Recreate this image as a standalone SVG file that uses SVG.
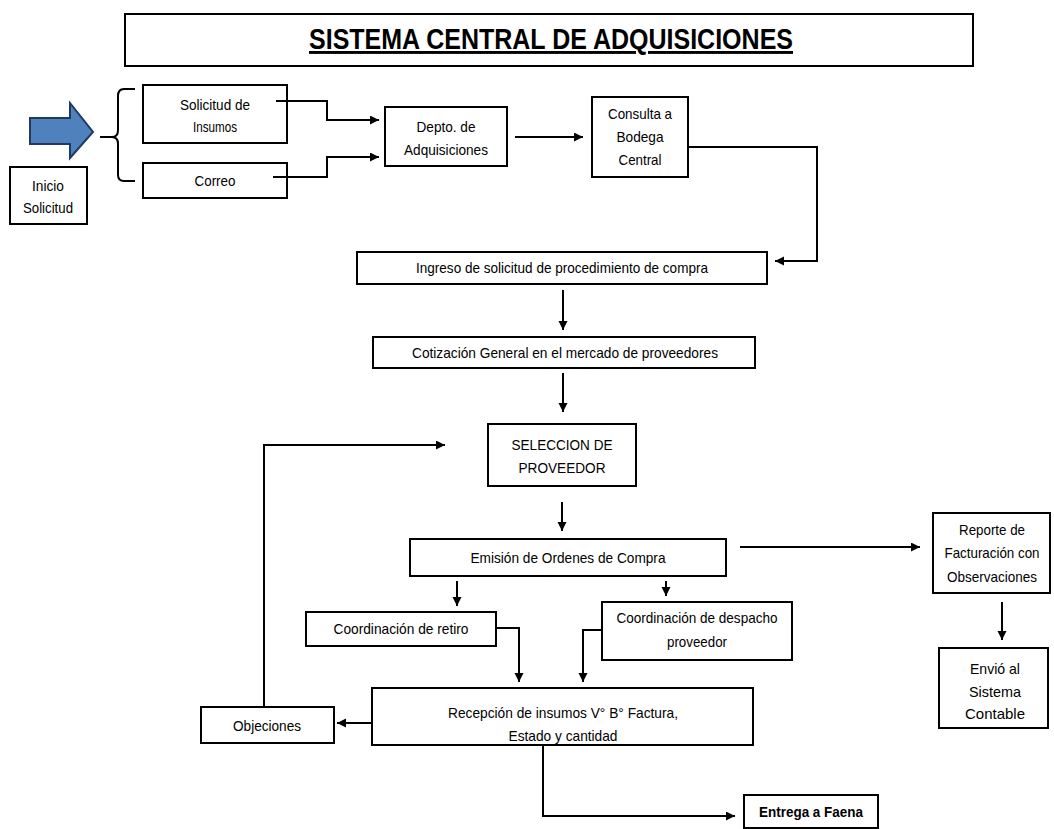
<svg xmlns="http://www.w3.org/2000/svg" width="1054" height="829" viewBox="0 0 1054 829">
<defs>
<marker id="ah" markerUnits="userSpaceOnUse" markerWidth="10" markerHeight="10" refX="9" refY="4.5" orient="auto">
<path d="M0,0 L9,4.5 L0,9 z" fill="#000"/>
</marker>
<style>
.box{fill:#fff;stroke:#000;stroke-width:2}
.t{font-family:"Liberation Sans Narrow","Liberation Sans",Arial,sans-serif;font-size:15px;fill:#000;text-anchor:middle}
.c{font-family:"Liberation Sans",Arial,sans-serif;font-size:15px;fill:#000;text-anchor:middle}
.ln{fill:none;stroke:#000;stroke-width:2}
.ar{fill:none;stroke:#000;stroke-width:2;marker-end:url(#ah)}
</style>
</defs>
<rect width="1054" height="829" fill="#fff"/>

<g id="title">
<rect x="125" y="14" width="848" height="52" fill="#fff" stroke="#000" stroke-width="2"/>
<text x="551" y="49" font-family="'Liberation Sans',Arial,sans-serif" font-size="29" font-weight="bold" text-anchor="middle" text-decoration="underline" textLength="484" lengthAdjust="spacingAndGlyphs">SISTEMA CENTRAL DE ADQUISICIONES</text>
</g>

<g id="inicio-arrow">
<path d="M30,118 H70 V103 L93,132 L70,158 V144 H30 z" fill="#4f81bd" stroke="#1f3864" stroke-width="2"/>
</g>

<g id="inicio">
<rect class="box" x="10" y="167" width="77" height="57" stroke-width="1.5"/>
<text class="t" x="48" y="191" textLength="32" lengthAdjust="spacingAndGlyphs">Inicio</text>
<text class="t" x="48" y="213" textLength="50" lengthAdjust="spacingAndGlyphs">Solicitud</text>
</g>

<g id="brace">
<path class="ln" d="M135,89 H124 Q118,89 118,96 V130 Q118,137 112,137 H100 M112,137 Q118,137 118,144 V175 Q118,181 124,181 H135"/>
</g>

<g id="solicitud">
<rect class="box" x="143" y="85" width="144" height="58"/>
<text class="t" x="215" y="110" textLength="70" lengthAdjust="spacingAndGlyphs">Solicitud de</text>
<text class="t" x="215" y="132" textLength="44" lengthAdjust="spacingAndGlyphs">Insumos</text>
</g>

<g id="correo">
<rect class="box" x="143" y="163" width="144" height="35"/>
<text class="t" x="215" y="186" textLength="41" lengthAdjust="spacingAndGlyphs">Correo</text>
</g>

<g id="depto">
<rect class="box" x="385" y="107" width="122" height="59"/>
<text class="t" x="446" y="132" textLength="59" lengthAdjust="spacingAndGlyphs">Depto. de</text>
<text class="t" x="446" y="155" textLength="84" lengthAdjust="spacingAndGlyphs">Adquisiciones</text>
</g>

<g id="consulta">
<rect class="box" x="592" y="97" width="96" height="80"/>
<text class="t" x="640" y="119" textLength="64" lengthAdjust="spacingAndGlyphs">Consulta a</text>
<text class="t" x="640" y="142" textLength="47" lengthAdjust="spacingAndGlyphs">Bodega</text>
<text class="t" x="640" y="165" textLength="43" lengthAdjust="spacingAndGlyphs">Central</text>
</g>

<g id="ingreso">
<rect class="box" x="357" y="252" width="410" height="32"/>
<text class="t" x="562" y="273" textLength="292" lengthAdjust="spacingAndGlyphs">Ingreso de solicitud de procedimiento de compra</text>
</g>

<g id="cotizacion">
<rect class="box" x="373" y="337" width="382" height="31"/>
<text class="t" x="565" y="358" textLength="306" lengthAdjust="spacingAndGlyphs">Cotización General en el mercado de proveedores</text>
</g>

<g id="seleccion">
<rect class="box" x="488" y="424" width="148" height="62"/>
<text class="t" x="562" y="450" textLength="101" lengthAdjust="spacingAndGlyphs">SELECCION DE</text>
<text class="t" x="562" y="473" textLength="87" lengthAdjust="spacingAndGlyphs">PROVEEDOR</text>
</g>

<g id="emision">
<rect class="box" x="410" y="539" width="316" height="37"/>
<text class="t" x="568" y="563" textLength="195" lengthAdjust="spacingAndGlyphs">Emisión de Ordenes de Compra</text>
</g>

<g id="reporte">
<rect class="box" x="933" y="513" width="117" height="80"/>
<text class="t" x="992" y="535" textLength="66" lengthAdjust="spacingAndGlyphs">Reporte de</text>
<text class="t" x="992" y="558" textLength="95" lengthAdjust="spacingAndGlyphs">Facturación con</text>
<text class="t" x="992" y="582" textLength="90" lengthAdjust="spacingAndGlyphs">Observaciones</text>
</g>

<g id="envio">
<rect class="box" x="939" y="648" width="109" height="80"/>
<text class="c" x="995" y="674" textLength="50" lengthAdjust="spacingAndGlyphs">Envió al</text>
<text class="c" x="995" y="697" textLength="52" lengthAdjust="spacingAndGlyphs">Sistema</text>
<text class="c" x="995" y="719" textLength="60" lengthAdjust="spacingAndGlyphs">Contable</text>
</g>

<g id="retiro">
<rect class="box" x="306" y="612" width="190" height="34"/>
<text class="t" x="401" y="634" textLength="135" lengthAdjust="spacingAndGlyphs">Coordinación de retiro</text>
</g>

<g id="despacho">
<rect class="box" x="602" y="602" width="190" height="58"/>
<text class="t" x="697" y="623" textLength="161" lengthAdjust="spacingAndGlyphs">Coordinación de despacho</text>
<text class="t" x="697" y="647" textLength="60" lengthAdjust="spacingAndGlyphs">proveedor</text>
</g>

<g id="recepcion">
<rect class="box" x="372" y="688" width="381" height="57"/>
<text class="t" x="563" y="718" textLength="230" lengthAdjust="spacingAndGlyphs">Recepción de insumos V° B° Factura,</text>
<text class="t" x="563" y="741" textLength="109" lengthAdjust="spacingAndGlyphs">Estado y cantidad</text>
</g>

<g id="objeciones">
<rect class="box" x="201" y="707" width="133" height="36"/>
<text class="t" x="267" y="731" textLength="68" lengthAdjust="spacingAndGlyphs">Objeciones</text>
</g>

<g id="entrega">
<rect class="box" x="744" y="795" width="134" height="33"/>
<text class="t" x="811" y="817" font-weight="bold" textLength="104" lengthAdjust="spacingAndGlyphs">Entrega a Faena</text>
</g>

<g id="connectors">
<path class="ar" d="M276,101 H327 V120 H379"/>
<path class="ar" d="M273,177 H327 V157 H379"/>
<path class="ar" d="M515,137 H583"/>
<path class="ar" d="M688,147 H817 V261 H775"/>
<path class="ar" d="M563,290 V330"/>
<path class="ar" d="M563,373 V412"/>
<path class="ar" d="M562,502 V531"/>
<path class="ar" d="M457,581 V606"/>
<path class="ar" d="M666,581 V596"/>
<path class="ar" d="M496,628 H519 V682"/>
<path class="ar" d="M602,630 H583 V682"/>
<path class="ar" d="M372,723 H337"/>
<path class="ar" d="M264,707 V445 H445"/>
<path class="ar" d="M740,547 H920"/>
<path class="ar" d="M1002,602 V640"/>
<path class="ar" d="M543,745 V816 H735"/>
</g>
</svg>
